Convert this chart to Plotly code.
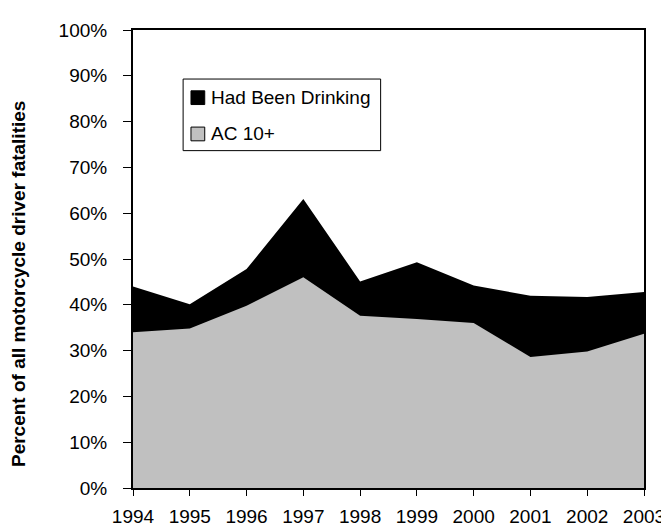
import plotly.graph_objects as go

years = [1994, 1995, 1996, 1997, 1998, 1999, 2000, 2001, 2002, 2003]
had_been_drinking = [44.0, 40.1, 47.8, 63.1, 45.1, 49.3, 44.2, 42.0, 41.7, 42.8]
ac_10_plus = [34.0, 34.8, 39.8, 46.0, 37.6, 36.9, 36.0, 28.6, 29.8, 33.7]
y_ticks = [0, 10, 20, 30, 40, 50, 60, 70, 80, 90, 100]
y_tick_labels = [f"{v}%" for v in y_ticks]
legend_labels = ["Had Been Drinking", "AC 10+"]
colors = ["#000000", "#c0c0c0"]

FONT = "Liberation Sans, Arial, sans-serif"

# plot area in pixels
L, R, T, B = 125, 645, 21, 488
W, H = 669, 531


def px(x):
    return (x - L) / (R - L)


def py(y):
    return (B - y) / (B - T)


fig = go.Figure()
fig.add_trace(go.Scatter(x=years, y=had_been_drinking, mode="lines", fill="tozeroy",
                         fillcolor=colors[0], line=dict(width=0, color=colors[0]),
                         name=legend_labels[0], showlegend=False, hoverinfo="skip"))
fig.add_trace(go.Scatter(x=years, y=ac_10_plus, mode="lines", fill="tozeroy",
                         fillcolor=colors[1], line=dict(width=0, color=colors[1]),
                         name=legend_labels[1], showlegend=False, hoverinfo="skip"))

shapes = []
annotations = []
# legend box
shapes.append(dict(type="rect", xref="paper", yref="paper",
                   x0=px(176), x1=px(377), y0=py(144), y1=py(71),
                   line=dict(color="black", width=1), fillcolor="white", layer="above"))
legend_rows = [(83, 97), (120, 134)]
for i, (y0, y1) in enumerate(legend_rows):
    shapes.append(dict(type="rect", xref="paper", yref="paper",
                       x0=px(184), x1=px(198), y0=py(y1), y1=py(y0),
                       line=dict(color="black", width=1), fillcolor=colors[i], layer="above"))
    annotations.append(dict(text=legend_labels[i], xref="paper", yref="paper",
                            x=px(202), y=py((y0 + y1) / 2), xanchor="left", yanchor="middle",
                            showarrow=False, font=dict(family=FONT, size=19, color="black")))

annotations.append(dict(text="<b>Percent of all motorcycle driver fatalities</b>",
                        xref="paper", yref="paper", x=px(8), y=py(280),
                        xanchor="center", yanchor="middle", textangle=-90, showarrow=False,
                        font=dict(family=FONT, size=19, color="black")))

fig.update_layout(
    width=W, height=H,
    margin=dict(l=L, r=W - R, t=T, b=H - B, pad=0),
    paper_bgcolor="white", plot_bgcolor="white",
    showlegend=False,
    shapes=shapes, annotations=annotations,
    font=dict(family=FONT, size=19, color="black"),
)
fig.update_xaxes(range=[years[0], years[-1]], tickvals=years, ticktext=[str(y) for y in years],
                 showgrid=False, zeroline=False, showline=True, linecolor="black", linewidth=2,
                 mirror=True, ticks="outside", ticklen=6, tickcolor="black", tickwidth=1,
                 ticklabelstandoff=4,
                 tickfont=dict(family=FONT, size=19, color="black"))
fig.update_yaxes(range=[0, 100], tickvals=y_ticks, ticktext=y_tick_labels,
                 showgrid=False, zeroline=False, showline=True, linecolor="black", linewidth=2,
                 mirror=True, ticks="outside", ticklen=8, tickcolor="black", tickwidth=1,
                 ticklabelstandoff=12,
                 tickfont=dict(family=FONT, size=19, color="black"))

fig.write_html("out.html")
